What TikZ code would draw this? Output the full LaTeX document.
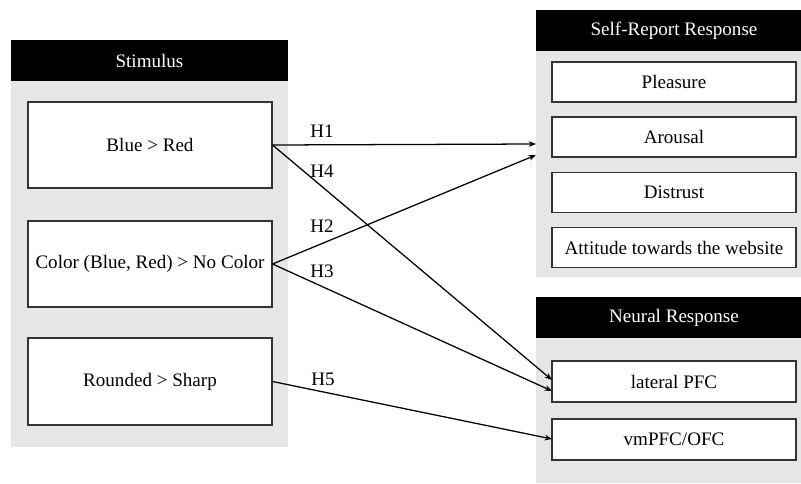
\documentclass[tikz,border=0pt]{standalone}
\usepackage{fontspec}
\setmainfont{Liberation Serif}
\usetikzlibrary{arrows.meta}
\definecolor{panelgray}{HTML}{E6E6E6}
\definecolor{boxline}{HTML}{333333}
\begin{document}
\begin{tikzpicture}[x=0.75pt,y=-0.75pt,
  every node/.style={font=\fontsize{14.3}{17}\selectfont},
  header/.style={fill=black,draw=none,text=white,inner sep=0pt},
  panel/.style={fill=panelgray,draw=none},
  itembox/.style={draw=boxline,line width=0.8pt,fill=white,inner sep=0pt},
  hyp/.style={inner sep=0pt},
  link/.style={line width=0.95pt,-{Stealth[length=5.5pt,width=4.2pt]}}]
\useasboundingbox (0,0) rectangle (801,483);
% Stimulus panel
\fill[panelgray] (11,81) rectangle (288,447);
\node[header,minimum width=277*0.75pt,minimum height=41*0.75pt] (sthead) at (149.5,60.5) {Stimulus};
\node[itembox,minimum width=244*0.75pt,minimum height=86*0.75pt] (blue) at (150,145) {Blue > Red};
\node[itembox,minimum width=244*0.75pt,minimum height=86*0.75pt] (color) at (150,264) {Color (Blue, Red) > No Color};
\node[itembox,minimum width=244*0.75pt,minimum height=87*0.75pt] (round) at (150,381.5) {Rounded > Sharp};
% Self-report panel
\fill[panelgray] (536,51) rectangle (812,277);
\node[header,minimum width=276*0.75pt,minimum height=41*0.75pt] (srhead) at (674,30.5) {Self-Report Response};
\node[itembox,minimum width=244*0.75pt,minimum height=40*0.75pt] (pleasure) at (674,82) {Pleasure};
\node[itembox,minimum width=244*0.75pt,minimum height=40*0.75pt] (arousal) at (674,137) {Arousal};
\node[itembox,minimum width=244*0.75pt,minimum height=40*0.75pt] (distrust) at (674,192.5) {Distrust};
\node[itembox,minimum width=244*0.75pt,minimum height=40*0.75pt] (attitude) at (674,247.5) {Attitude towards the website};
% Neural panel
\fill[panelgray] (536,338) rectangle (812,483);
\node[header,minimum width=276*0.75pt,minimum height=41*0.75pt] (nrhead) at (674,317.5) {Neural Response};
\node[itembox,minimum width=244*0.75pt,minimum height=41*0.75pt] (lpfc) at (674,381.5) {lateral PFC};
\node[itembox,minimum width=244*0.75pt,minimum height=41*0.75pt] (vmpfc) at (674,439.5) {vmPFC/OFC};
% arrow end points
\coordinate (e1) at (536,144);
\coordinate (e2) at (536,155);
\coordinate (e4) at (552,380);
\coordinate (e3) at (552,391);
\coordinate (e5) at (552,439);
% connectors
\draw[link] (blue.east) -- (e1);
\draw[link] (blue.east) -- (e4);
\draw[link] (color.east) -- (e2);
\draw[link] (color.east) -- (e3);
\draw[link] (round.east) -- (e5);
% labels
\node[hyp] (h1) at (322,131) {H1};
\node[hyp] (h4) at (322,171) {H4};
\node[hyp] (h2) at (322,226) {H2};
\node[hyp] (h3) at (322,271) {H3};
\node[hyp] (h5) at (323,379) {H5};
\end{tikzpicture}
\end{document}
